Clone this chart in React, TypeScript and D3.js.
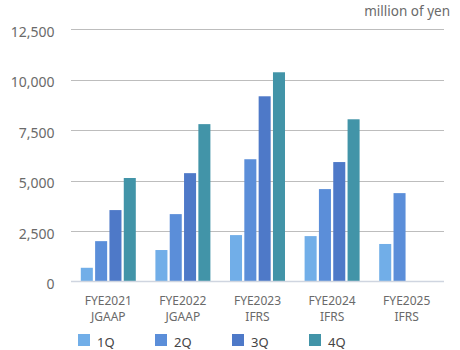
import React from "react";
import * as d3 from "d3";

const categories = ["FYE2021", "FYE2022", "FYE2023", "FYE2024", "FYE2025"];
const standards = ["JGAAP", "JGAAP", "IFRS", "IFRS", "IFRS"];
const seriesNames = ["1Q", "2Q", "3Q", "4Q"];
const q1 = [680, 1560, 2300, 2250, 1860];
const q2 = [2000, 3340, 6060, 4580, 4380];
const q3 = [3540, 5370, 9180, 5920, null];
const q4 = [5130, 7800, 10370, 8040, null];
const yTicks = [0, 2500, 5000, 7500, 10000, 12500];
const unitLabel = "million of yen";

const colors = ["#71aee8", "#5b8ed9", "#4e79c8", "#4294a8"];
const FONT = "'Noto Sans', sans-serif";

export default function App() {
  const W = 460, H = 350;
  const series = [q1, q2, q3, q4];
  const x = d3.scaleBand<string>().domain(categories).range([71, 444]).padding(0);
  const inner = d3.scaleBand<string>().domain(seriesNames).range([-27.5, 27.5]).paddingInner(0.16);
  const y = d3.scaleLinear().domain([0, 12500]).range([281.5, 29.3]);
  const fmt = d3.format(",");

  return (
    <svg width={W} height={H} style={{ position: "absolute", left: 0, top: 0 }} fontFamily={FONT}>
      <rect width={W} height={H} fill="#fff" />
      <text x={450} y={15.5} textAnchor="end" fontSize={13.5} fill="#6a6a6a">{unitLabel}</text>
      {yTicks.map((t) => (
        <g key={t}>
          {t !== 0 && (
            <line x1={71} x2={444} y1={Math.round(y(t)) + 0.5} y2={Math.round(y(t)) + 0.5} stroke="#bdbdbd" strokeWidth={1} />
          )}
          <text x={54.5} y={y(t) + 7.5} textAnchor="end" fontSize={14} fill="#6a6a6a">{fmt(t)}</text>
        </g>
      ))}
      {series.map((vals, si) =>
        vals.map((v, ci) =>
          v == null ? null : (
            <rect
              key={`${si}-${ci}`}
              x={(x(categories[ci]) as number) + x.bandwidth() / 2 + (inner(seriesNames[si]) as number)}
              y={y(v)}
              width={inner.bandwidth()}
              height={y(0) - y(v)}
              fill={colors[si]}
            />
          )
        )
      )}
      <line x1={71} x2={444} y1={281.5} y2={281.5} stroke="#cfd5e0" strokeWidth={1.5} />
      {categories.map((c, i) => (
        <g key={c} fontSize={12} fill="#6a6a6a" textAnchor="middle">
          <text x={(x(c) as number) + x.bandwidth() / 2} y={304.5}>{c}</text>
          <text x={(x(c) as number) + x.bandwidth() / 2} y={321}>{standards[i]}</text>
        </g>
      ))}
      {seriesNames.map((s, i) => (
        <g key={s} transform={`translate(${78 + i * 77},334)`}>
          <rect width={12} height={12} fill={colors[i]} />
          <text x={19} y={13} fontSize={13} fill="#444">{s}</text>
        </g>
      ))}
    </svg>
  );
}
